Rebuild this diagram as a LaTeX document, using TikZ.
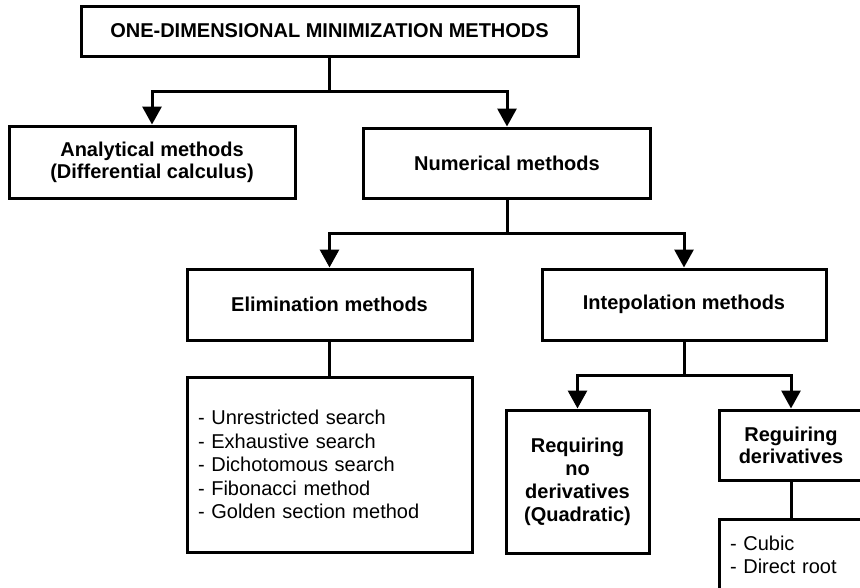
\documentclass[tikz,border=0pt]{standalone}
\usepackage{fontspec}
\setmainfont{Liberation Sans}
\usetikzlibrary{arrows.meta}
\begin{document}
\begin{tikzpicture}[x=1pt,y=-1pt,
 box/.style={draw,line width=3pt,inner sep=0pt,align=center,
   font=\fontsize{20}{22}\selectfont\bfseries},
 listbox/.style={draw,line width=3pt,inner xsep=11pt,inner ysep=0pt,align=left,
   font=\fontsize{20}{23.5}\selectfont},
 conn/.style={line width=3pt},
 arr/.style={line width=3pt,-{Triangle[width=19pt,length=18pt]}},
]
\useasboundingbox (0,0) rectangle (860,587);
\node[box,minimum width=497pt,minimum height=50pt] (top) at (329.5,31)
  {ONE-DIMENSIONAL MINIMIZATION METHODS};
\node[box,minimum width=286pt,minimum height=72pt] (ana) at (152,162)
  {Analytical methods\\(Differential calculus)};
\node[box,minimum width=287pt,minimum height=70pt] (num) at (507,163)
  {Numerical methods};
\node[box,minimum width=285pt,minimum height=71pt] (eli) at (329.5,304.5)
  {Elimination methods};
\node[box,minimum width=284pt,minimum height=71pt] (int) at (684,304.5)
  {Intepolation methods};
\node[listbox,text width=263pt,minimum height=175pt] (lst) at (329.5,464.5)
  {- Unrestricted search\\- Exhaustive search\\- Dichotomous search\\- Fibonacci method\\- Golden section method};
\node[box,minimum width=143pt,minimum height=143pt,font=\fontsize{20}{23}\selectfont\bfseries] (nod) at (577.5,481.5)
  {Requiring\\no\\derivatives\\(Quadratic)};
\node[box,minimum width=144pt,minimum height=70pt] (der) at (791,445)
  {Reguiring\\derivatives};
\node[listbox,text width=122pt,minimum height=72pt] (cub) at (791,555)
  {- Cubic\\- Direct root};
\coordinate (j1) at (329.5,91);
\coordinate (j2) at (507,233);
\coordinate (j3) at (684,375);
\draw[conn] (top.south) -- (j1);
\draw[arr] (j1) -| (ana.north);
\draw[arr] (j1) -| (num.north);
\draw[conn] (num.south) -- (j2);
\draw[arr] (j2) -| (eli.north);
\draw[arr] (j2) -| (int.north);
\draw[conn] (eli.south) -- (lst.north);
\draw[conn] (int.south) -- (j3);
\draw[arr] (j3) -| (nod.north);
\draw[arr] (j3) -| (der.north);
\draw[conn] (der.south) -- (cub.north);
\end{tikzpicture}
\end{document}
